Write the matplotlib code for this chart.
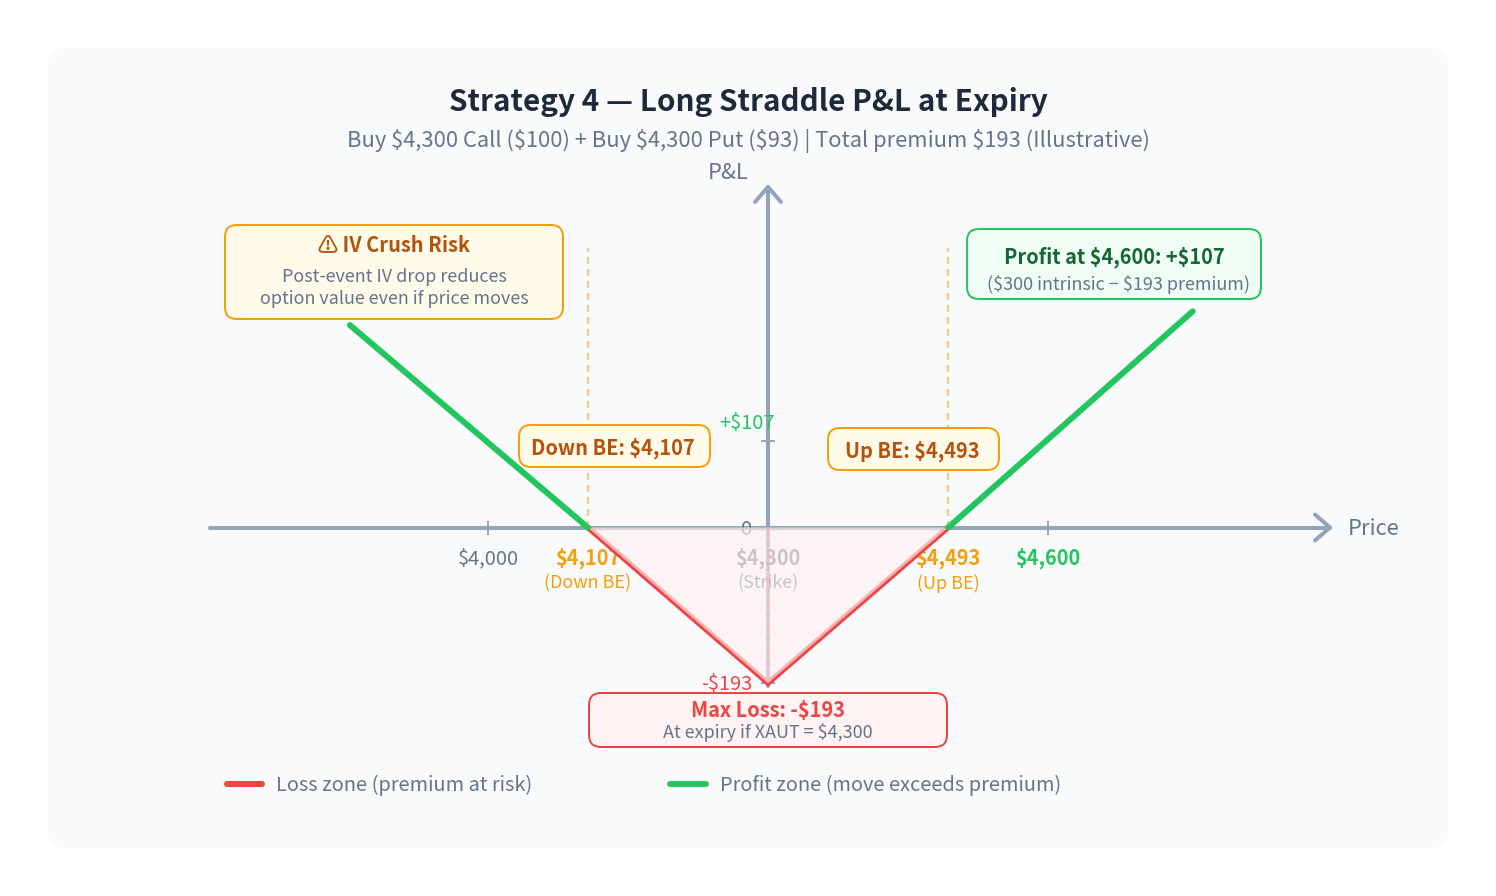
import matplotlib
matplotlib.use("Agg")
import matplotlib.pyplot as plt
from matplotlib.patches import FancyBboxPatch

plt.rcParams['font.family'] = ['Noto Sans CJK SC', 'DejaVu Sans']
plt.rcParams['text.parse_math'] = False

W, H = 1496, 896
PX = 0.72  # one pixel in points at dpi 100

# payoff at expiry
left_price = [3852, 4107]
left_pnl = [251, 0]
loss_price = [4107, 4300, 4493]
loss_pnl = [0, -193, 0]
right_price = [4493, 4755]
right_pnl = [0, 268]

# axis ticks
strike = 4300
down_be = 4107
up_be = 4493
price_ticks = [4000, 4107, 4300, 4493, 4600]
price_labels = ["$4,000", "$4,107", "$4,300", "$4,493", "$4,600"]
price_subs = ["", "(Down BE)", "(Strike)", "(Up BE)", ""]
pnl_ticks = [107, 0, -193]
pnl_labels = ["+$107", "0", "-$193"]

GREEN = "#22c55e"
RED = "#ef4444"
AMBER = "#f59e0b"
AXIS = "#94a3b8"
SLATE = "#64748b"
BROWN = "#b45309"

# scale of the plot: pixels per dollar, origin at pixel (768, 527.5)
sx = 0.9333
sy = 0.8065
y0_px = 527.5

fig = plt.figure(figsize=(W / 100, H / 100), dpi=100, facecolor="white")


def pixel_axes(z):
    a = fig.add_axes([0, 0, 1, 1], zorder=z)
    a.set_xlim(0, W)
    a.set_ylim(H, 0)
    a.axis("off")
    return a


def box(a, x0, y0, x1, y1, fc, ec=None, lw=2, r=12):
    a.add_patch(FancyBboxPatch((x0, y0), x1 - x0, y1 - y0,
                               boxstyle=f"round,pad=0,rounding_size={r}",
                               fc=fc, ec=ec if ec else "none", lw=lw * PX))


def label(a, x, y, s, size, color, weight="normal", ha="center"):
    a.text(x, y + 2, s, fontsize=size * PX, color=color, fontweight=weight,
           ha=ha, va="center")


bg = pixel_axes(0)
box(bg, 48, 48, 1448, 848, "#f8fafc", r=16)

ax = fig.add_axes([0, 0, 1, 1], zorder=1)
ax.set_xlim(strike - 768 / sx, strike + (W - 768) / sx)
ax.set_ylim((y0_px - H) / sy, y0_px / sy)
ax.axis("off")
ax.patch.set_alpha(0)

# axes with open arrow heads
xa0, xa1 = ax.get_xlim()[0] + 210 / sx, ax.get_xlim()[0] + 1330 / sx
ya1 = (y0_px - 187) / sy
ya0 = -193 - 3 / sy
ax.plot([xa0, xa1], [0, 0], color=AXIS, lw=4 * PX, solid_capstyle="round", zorder=1)
ax.plot([strike, strike], [ya0, ya1], color=AXIS, lw=4 * PX, solid_capstyle="round", zorder=1)
ax.plot([xa1 - 15 / sx, xa1, xa1 - 15 / sx], [13 / sy, 0, -13 / sy], color=AXIS,
        lw=4 * PX, solid_capstyle="round", solid_joinstyle="round", zorder=1)
ax.plot([strike - 13 / sx, strike, strike + 13 / sx], [ya1 - 15 / sy, ya1, ya1 - 15 / sy],
        color=AXIS, lw=4 * PX, solid_capstyle="round", solid_joinstyle="round", zorder=1)

# ticks
for p in [4000, 4600]:
    ax.plot([p, p], [-6 / sy, 6 / sy], color=AXIS, lw=2 * PX, zorder=1)
for v in [107, -193]:
    ax.plot([strike - 6 / sx, strike + 6 / sx], [v, v], color=AXIS, lw=2 * PX, zorder=1)

# tick labels
price_colors = [SLATE, AMBER, SLATE, AMBER, GREEN]
price_weights = ["normal", "bold", "bold", "bold", "bold"]
for p, s, sub, c, w in zip(price_ticks, price_labels, price_subs, price_colors, price_weights):
    ax.annotate(s, (p, 0), xytext=(0, -31 * PX), textcoords="offset points", ha="center",
                va="center", fontsize=20 * PX, color=c, fontweight=w, zorder=2)
    if sub:
        ax.annotate(sub, (p, 0), xytext=(0, -56 * PX), textcoords="offset points", ha="center",
                    va="center", fontsize=18 * PX, color=c, zorder=2)

ax.annotate(pnl_labels[0], (strike, pnl_ticks[0]), xytext=(7 * PX, 18 * PX),
            textcoords="offset points", ha="right", va="center", fontsize=20 * PX, color=GREEN, zorder=2)
ax.annotate(pnl_labels[1], (strike, pnl_ticks[1]), xytext=(-16 * PX, -2 * PX),
            textcoords="offset points", ha="right", va="center", fontsize=20 * PX, color=SLATE, zorder=2)
ax.annotate(pnl_labels[2], (strike, pnl_ticks[2]), xytext=(-16 * PX, -1 * PX),
            textcoords="offset points", ha="right", va="center", fontsize=20 * PX, color=RED, zorder=2)

# break-even and strike guides
for p in [down_be, up_be]:
    ax.plot([p, p], [0, (y0_px - 248) / sy], color=AMBER, alpha=0.5, lw=2.5 * PX,
            dashes=(7 / 2.5, 5 / 2.5), zorder=3)
ax.plot([strike, strike], [0, -193], color=RED, alpha=0.7, lw=2.5 * PX, dashes=(7 / 2.5, 5 / 2.5), zorder=3)

# payoff
ax.plot(loss_price, loss_pnl, color=RED, lw=5.5 * PX, solid_capstyle="round", solid_joinstyle="miter", zorder=4)
ax.fill(loss_price, loss_pnl, color="#fff0f0", alpha=0.65, lw=0, zorder=5)
ax.plot(left_price, left_pnl, color=GREEN, lw=6 * PX, solid_capstyle="round", zorder=6)
ax.plot(right_price, right_pnl, color=GREEN, lw=6 * PX, solid_capstyle="round", zorder=6)

top = pixel_axes(2)

label(top, 748, 100, "Strategy 4 — Long Straddle P&L at Expiry", 29.7, "#1e293b", "bold")
label(top, 748, 139, "Buy $4,300 Call ($100) + Buy $4,300 Put ($93) | Total premium $193 (Illustrative)", 21.9, SLATE)
label(top, 728, 171, "P&L", 22, SLATE)
label(top, 1374, 527, "Price", 22, SLATE)

box(top, 225, 225, 563, 319, "#fffbeb", AMBER)
label(top, 394, 243, "⚠ IV Crush Risk", 20, BROWN, "bold")
label(top, 394, 275, "Post-event IV drop reduces", 18, SLATE)
label(top, 394, 297, "option value even if price moves", 18, SLATE)

box(top, 519, 425, 710, 467, "#fffbeb", AMBER)
label(top, 613, 446, "Down BE: $4,107", 20, BROWN, "bold")
box(top, 828, 428, 999, 470, "#fffbeb", AMBER)
label(top, 912, 449, "Up BE: $4,493", 20, BROWN, "bold")

box(top, 967, 229, 1261, 299, "#f0fdf4", GREEN)
label(top, 1114, 255, "Profit at $4,600: +$107", 20, "#166534", "bold")
label(top, 1119, 282, "($300 intrinsic − $193 premium)", 18, SLATE)

box(top, 589, 693, 947, 747, "#fef2f2", RED)
label(top, 768, 708, "Max Loss: -$193", 20, RED, "bold")
label(top, 768, 730, "At expiry if XAUT = $4,300", 18, SLATE)

# legend
top.plot([227, 262], [784, 784], color=RED, lw=6 * PX, solid_capstyle="round")
label(top, 276, 783, "Loss zone (premium at risk)", 20, SLATE, ha="left")
top.plot([670, 706], [784, 784], color=GREEN, lw=6 * PX, solid_capstyle="round")
label(top, 720, 783, "Profit zone (move exceeds premium)", 20, SLATE, ha="left")

fig.savefig("out.png", dpi=100)
